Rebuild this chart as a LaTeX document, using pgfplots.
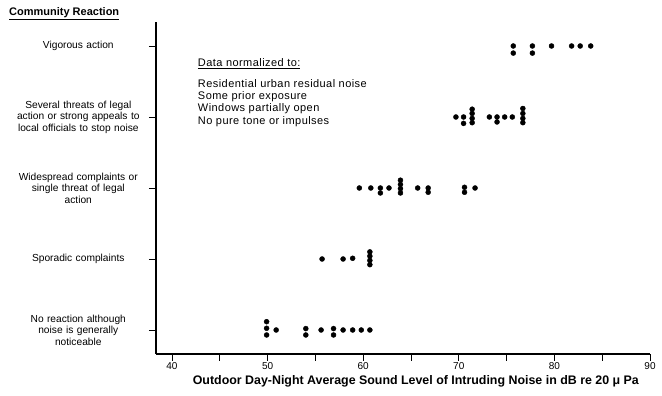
\documentclass[border=0pt]{standalone}
\usepackage{fontspec}
\setmainfont{Liberation Sans}
\newfontfamily\widefont[LetterSpace=4]{Liberation Sans}
\usepackage{pgfplots}
\pgfplotsset{compat=1.18}
\begin{document}
\begin{tikzpicture}
\path[use as bounding box] (-156pt,-42pt) rectangle (506pt,354pt);
\begin{axis}[
 at={(0pt,0pt)}, anchor=south west,
 scale only axis, width=494pt, height=332pt,
 xmin=38.33, xmax=90, ymin=0.662, ymax=5.338,
 axis x line*=bottom, axis y line*=left,
 axis line style={line width=1.8pt},
 xtick={40,50,...,90}, minor xtick={45,55,...,85},
 ytick={1,2,3,4,5},
 tick align=outside, major tick length=7pt, minor tick length=7pt,
 tick style={line width=0.9pt, black},
 /pgf/number format/assume math mode=true,
 xticklabel style={font=\fontsize{10}{12}\selectfont, inner sep=1pt},
 yticklabels={{No reaction although\\noise is generally\\noticeable},
   {Sporadic complaints},
   {Widespread complaints or\\single threat of legal\\action},
   {Several threats of legal\\action or strong appeals to\\local officials to stop noise},
   {Vigorous action}},
 yticklabel style={font=\fontsize{10.2}{11.5}\selectfont, text width=125pt, align=center, inner sep=0pt, xshift=-8pt},
 xlabel={Outdoor Day-Night Average Sound Level of Intruding Noise in dB re 20 μ Pa},
 xlabel style={font=\bfseries\fontsize{12.4}{14}\selectfont, at={(axis description cs:0.526,0)}, anchor=north, yshift=-21pt, inner sep=0pt},
 clip=false,
]
\addplot[only marks, mark=*, mark size=2.5pt, black] coordinates {
 (75.7,5.0) (75.7,4.9) (77.7,5.0) (77.7,4.9) (79.7,5.0) (81.8,5.0) (82.7,5.0) (83.8,5.0)
 (69.7,4.0) (70.5,4.0) (70.5,3.91) (71.4,4.11) (71.4,4.05) (71.4,3.98) (71.4,3.92)
 (73.2,4.0) (74.0,4.0) (74.0,3.93) (74.8,4.0) (75.6,4.0)
 (76.7,4.12) (76.7,4.05) (76.7,3.98) (76.7,3.92)
 (59.6,3.0) (60.8,3.0) (61.8,3.0) (61.8,2.93) (62.7,3.0)
 (63.9,3.11) (63.9,3.05) (63.9,2.99) (63.9,2.93)
 (65.7,3.0) (66.8,3.0) (66.8,2.94) (70.6,3.01) (70.6,2.94) (71.7,3.0)
 (55.7,2.0) (57.9,2.0) (58.9,2.01) (60.7,2.1) (60.7,2.04) (60.7,1.98) (60.7,1.92)
 (49.9,1.117) (49.9,1.024) (49.9,0.93) (50.9,1.0) (54.0,1.02) (54.0,0.93)
 (55.6,1.0) (56.9,1.02) (56.9,0.93) (57.9,1.0) (58.9,1.0) (59.8,1.0) (60.7,1.0)
};
\node[anchor=north west, align=left, inner sep=0pt, font=\widefont\fontsize{11}{12.2}\selectfont]
 at (axis cs:42.7,4.83) {\underline{Data normalized to:}\\[9pt]
 Residential urban residual noise\\Some prior exposure\\Windows partially open\\No pure tone or impulses};
\end{axis}
\node[anchor=west, inner sep=0pt, font=\bfseries\fontsize{11}{12}\selectfont] at (-147pt,340pt) {\underline{Community Reaction}};
\end{tikzpicture}
\end{document}
